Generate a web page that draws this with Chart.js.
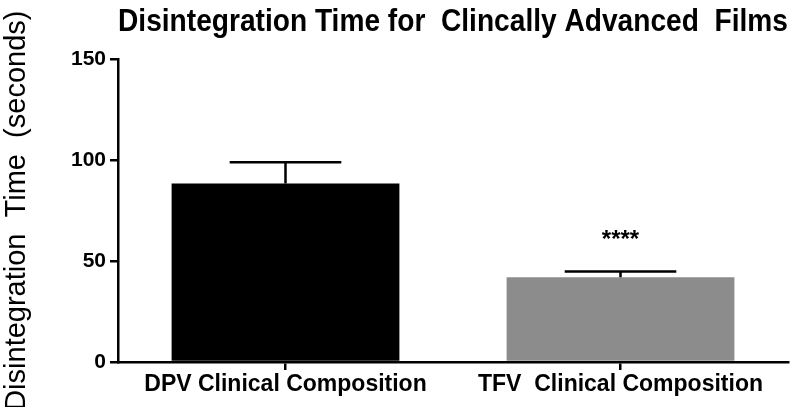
<!DOCTYPE html>
<html>
<head>
<meta charset="utf-8">
<script src="https://cdn.jsdelivr.net/npm/chart.js@4.4.1/dist/chart.umd.min.js"></script>
<style>
  html, body { margin: 0; padding: 0; background: #fff; }
  #wrap { width: 800px; height: 407px; }
</style>
</head>
<body>
<div id="wrap"><canvas id="c"></canvas></div>
<script>
const categories = ['DPV Clinical Composition', 'TFV  Clinical Composition'];
const meanTimes = [88.5, 42];
const sdTimes = [10.5, 2.8];
const significance = ['', '****'];
const yTicks = [0, 50, 100, 150];
const barColors = ['#000000', '#8c8c8c'];

// error bars and significance stars
const errorBars = {
    id: 'errorBars',
    afterDatasetsDraw(chart) {
        const ctx = chart.ctx;
        const y = chart.scales.y;
        const meta = chart.getDatasetMeta(0);
        ctx.save();
        ctx.strokeStyle = '#000';
        ctx.lineWidth = 2.5;
        meta.data.forEach((bar, i) => {
            const top = y.getPixelForValue(meanTimes[i] + sdTimes[i]);
            const half = bar.width * 0.245;
            ctx.beginPath();
            ctx.moveTo(bar.x, bar.y);
            ctx.lineTo(bar.x, top);
            ctx.moveTo(bar.x - half, top);
            ctx.lineTo(bar.x + half, top);
            ctx.stroke();
            if (significance[i]) {
                ctx.fillStyle = '#000';
                ctx.font = 'bold 24px "Liberation Sans", Arial, sans-serif';
                ctx.textAlign = 'center';
                ctx.textBaseline = 'middle';
                ctx.fillText(significance[i], bar.x, top - 31);
            }
        });
        ctx.restore();
    }
};

new Chart(document.getElementById('c'), {
    type: 'bar',
    data: {
        labels: categories,
        datasets: [{
            data: meanTimes,
            backgroundColor: barColors,
            borderWidth: 0,
            barPercentage: 0.68,
            categoryPercentage: 1
        }]
    },
    options: {
        responsive: true,
        maintainAspectRatio: false,
        animation: false,
        layout: { padding: { left: 0, right: 12, top: 0, bottom: 0 } },
        scales: {
            x: {
                grid: { display: true, drawOnChartArea: false, offset: false, color: '#000', lineWidth: 2.5, tickLength: 8 },
                border: { color: '#000', width: 2.5 },
                ticks: { color: '#000', padding: 1, font: { family: '"Liberation Sans", Arial, sans-serif', size: 23, weight: 'bold' } },
                afterFit: s => { s.height = 45; }
            },
            y: {
                min: 0,
                max: 150,
                afterBuildTicks: s => { s.ticks = yTicks.map(v => ({ value: v })); },
                grid: { display: true, drawOnChartArea: false, color: '#000', lineWidth: 2.5, tickLength: 8 },
                border: { color: '#000', width: 2.5 },
                ticks: { color: '#000', padding: 4, font: { family: '"Liberation Sans", Arial, sans-serif', size: 21, weight: 'bold' } },
                title: {
                    display: true,
                    text: 'Disintegration  Time  (seconds)',
                    color: '#000',
                    padding: { top: 0, bottom: 0 },
                    font: { family: '"Liberation Sans", Arial, sans-serif', size: 29, weight: 'normal' }
                },
                afterFit: s => { s.width = 118; }
            }
        },
        plugins: {
            legend: { display: false },
            tooltip: { enabled: false },
            title: {
                display: true,
                fullSize: false,
                text: 'Disintegration Time for  Clincally Advanced  Films',
                color: '#000',
                padding: { top: 3, bottom: 18 },
                font: { family: '"Liberation Sans", Arial, sans-serif', size: 32, weight: 'bold', lineHeight: 1.2 }
            }
        }
    },
    plugins: [errorBars]
});
</script>
</body>
</html>
